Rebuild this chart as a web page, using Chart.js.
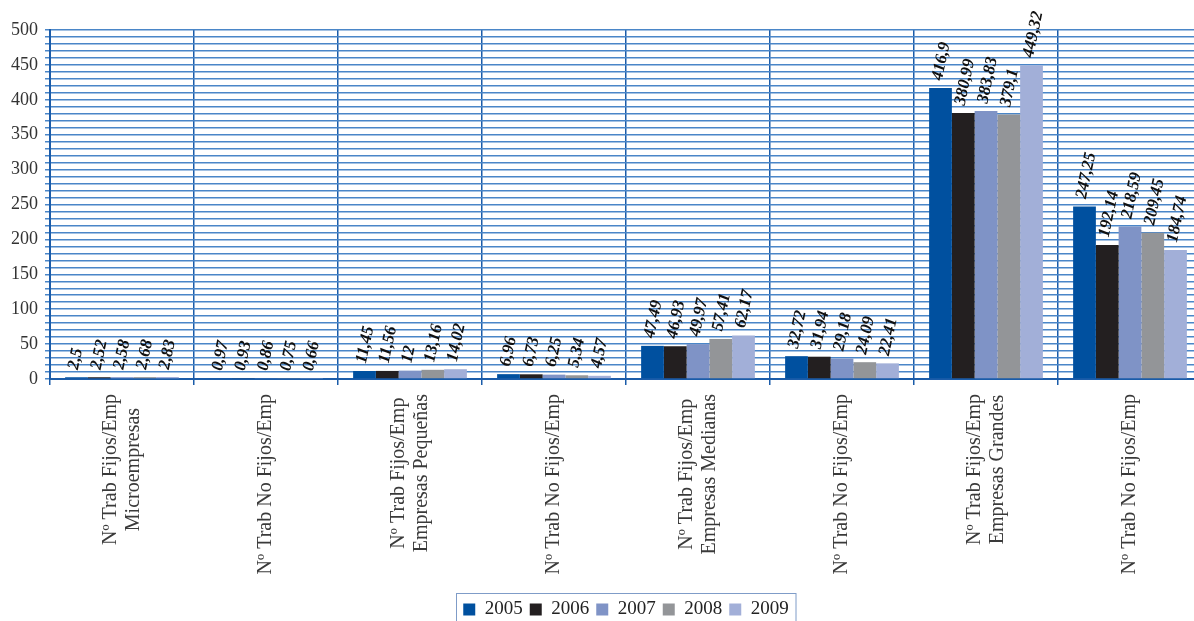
<!DOCTYPE html>
<html>
<head>
<meta charset="utf-8">
<script src="https://cdn.jsdelivr.net/npm/chart.js@4/dist/chart.umd.min.js"></script>
<style>
  html, body { margin: 0; padding: 0; background: #fff; overflow: hidden; }
  #wrap { width: 1252px; height: 629px; }
</style>
</head>
<body>
<div id="wrap"><canvas id="empChart" width="1252" height="629"></canvas></div>
<script>
const categories = [
  ["Nº Trab Fijos/Emp", "Microempresas"],
  "Nº Trab No Fijos/Emp",
  ["Nº Trab Fijos/Emp", "Empresas Pequeñas"],
  "Nº Trab No Fijos/Emp",
  ["Nº Trab Fijos/Emp", "Empresas Medianas"],
  "Nº Trab No Fijos/Emp",
  ["Nº Trab Fijos/Emp", "Empresas Grandes"],
  "Nº Trab No Fijos/Emp",
];

const years = ["2005", "2006", "2007", "2008", "2009"];

const values2005 = [2.5, 0.97, 11.45, 6.96, 47.49, 32.72, 416.9, 247.25];
const values2006 = [2.52, 0.93, 11.56, 6.73, 46.93, 31.94, 380.99, 192.14];
const values2007 = [2.58, 0.86, 12, 6.25, 49.97, 29.18, 383.83, 218.59];
const values2008 = [2.68, 0.75, 13.16, 5.34, 57.41, 24.09, 379.1, 209.45];
const values2009 = [2.83, 0.66, 14.02, 4.57, 62.17, 22.41, 449.32, 184.74];

const yMax = 500;
const yGridStep = 10;
const yLabelStep = 50;

const seriesValues = [values2005, values2006, values2007, values2008, values2009];
const seriesColors = ["#00509f", "#231f20", "#7f93c6", "#939598", "#a2afd8"];

const axisBlue = "#1b5ca9";
const gridBlue = "#4a86c8";
const serif = "'Liberation Serif', 'Times New Roman', serif";

// rotated value labels above each bar, decimal comma
const valueLabels = {
  id: "valueLabels",
  afterDatasetsDraw(chart) {
    const { ctx } = chart;
    ctx.save();
    ctx.font = `italic bold 17px ${serif}`;
    ctx.fillStyle = "#111";
    ctx.textAlign = "left";
    ctx.textBaseline = "middle";
    chart.data.datasets.forEach((dataset, i) => {
      const meta = chart.getDatasetMeta(i);
      meta.data.forEach((bar, j) => {
        const text = String(dataset.data[j]).replace(".", ",");
        ctx.save();
        ctx.translate(bar.x - 3, bar.y - 8);
        ctx.rotate((-78 * Math.PI) / 180);
        ctx.fillText(text, 0, 0);
        ctx.restore();
      });
    });
    ctx.restore();
  },
};

// vertical category names, lines centred on each other
const categoryLabels = {
  id: "categoryLabels",
  afterDraw(chart) {
    const { ctx } = chart;
    const xScale = chart.scales.x;
    ctx.save();
    ctx.font = `20px ${serif}`;
    ctx.fillStyle = "#3a3a3a";
    ctx.textAlign = "center";
    ctx.textBaseline = "middle";
    categories.forEach((label, i) => {
      const lines = Array.isArray(label) ? label : [label];
      const longest = Math.max(...lines.map((l) => ctx.measureText(l).width));
      const x = xScale.getPixelForTick(i);
      const midY = xScale.top + 15 + longest / 2;
      lines.forEach((line, k) => {
        const dx = (k - (lines.length - 1) / 2) * 23;
        ctx.save();
        ctx.translate(x + dx, midY);
        ctx.rotate(-Math.PI / 2);
        ctx.fillText(line, 0, 0);
        ctx.restore();
      });
    });
    ctx.restore();
  },
};

// legend centred under the whole category band, with a thin frame
const legendFrame = {
  id: "legendFrame",
  afterLayout(chart) {
    const legend = chart.legend;
    if (!legend) return;
    const shift = (chart.width - (legend.left + legend.right)) / 2;
    legend.left += shift;
    legend.right += shift;
  },
  afterDraw(chart) {
    const legend = chart.legend;
    if (!legend || !legend.legendHitBoxes.length) return;
    const boxes = legend.legendHitBoxes;
    const left = Math.min(...boxes.map((b) => b.left)) - 7;
    const right = Math.max(...boxes.map((b) => b.left + b.width)) + 7;
    const { ctx } = chart;
    ctx.save();
    ctx.strokeStyle = "#7f9cc8";
    ctx.lineWidth = 1;
    ctx.strokeRect(Math.round(left) + 0.5, legend.top + 0.5, right - left, legend.height - 1);
    ctx.restore();
  },
};

const ctx = document.getElementById("empChart").getContext("2d");

new Chart(ctx, {
  type: "bar",
  data: {
    labels: categories,
    datasets: years.map((year, i) => ({
      label: year,
      data: seriesValues[i],
      backgroundColor: seriesColors[i],
      borderWidth: 0,
      categoryPercentage: 0.79,
      barPercentage: 1,
    })),
  },
  options: {
    responsive: false,
    animation: false,
    layout: { padding: { top: 30, right: 50, left: 0, bottom: 0 } },
    plugins: {
      legend: {
        position: "bottom",
        labels: {
          boxWidth: 12,
          boxHeight: 12,
          padding: 7,
          color: "#222",
          font: { family: serif, size: 19 },
        },
      },
      tooltip: { enabled: false },
    },
    scales: {
      x: {
        grid: {
          offset: true,
          color: axisBlue,
          lineWidth: 1.5,
          tickLength: 6,
        },
        border: { color: axisBlue, width: 2 },
        ticks: { callback: () => "", autoSkip: false },
        afterFit: (scale) => {
          scale.height = 214;
        },
      },
      y: {
        min: 0,
        max: yMax,
        grid: { color: gridBlue, lineWidth: 1.5, tickLength: 5 },
        border: { color: axisBlue, width: 2 },
        ticks: {
          stepSize: yGridStep,
          autoSkip: false,
          padding: 7,
          color: "#333",
          font: { family: serif, size: 18 },
          callback: (v) => (v % yLabelStep === 0 ? v : ""),
        },
        afterFit: (scale) => {
          scale.width = 50;
        },
      },
    },
  },
  plugins: [valueLabels, categoryLabels, legendFrame],
});
</script>
</body>
</html>
